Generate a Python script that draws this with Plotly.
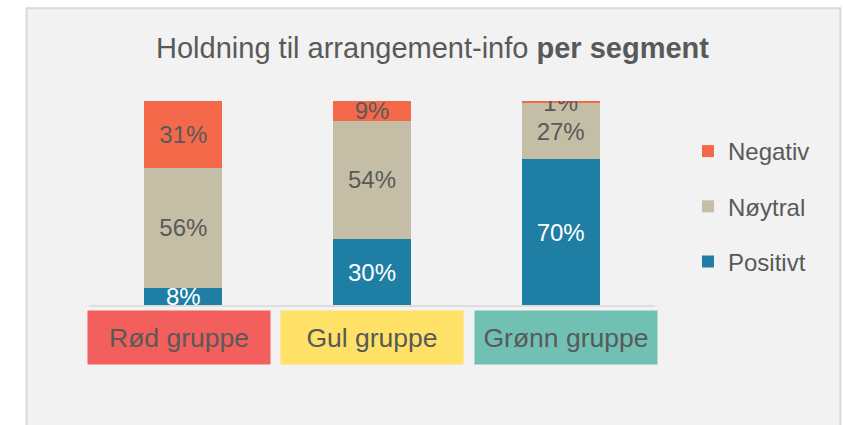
import plotly.graph_objects as go

# ---- data ----
categories = ["Rød gruppe", "Gul gruppe", "Grønn gruppe"]
positivt = [8, 30, 70]
noytral = [56, 54, 27]
negativ = [31, 9, 1]
series_names = ["Positivt", "Nøytral", "Negativ"]
category_colors = ["#f25f5c", "#fee166", "#70c1b3"]

# ---- layout geometry (pixels) ----
WIDTH, HEIGHT = 843, 425
L, R = 88.5, 655.0   # plot area left/right
T, B = 101.0, 305.0  # plot area top/bottom
PW, PH = R - L, B - T

def px_x(p):
    return (p - L) / PW

def px_y(p):
    return 1 - (p - T) / PH

FONT = "Liberation Sans, Arial, sans-serif"
TXT = "#595959"

colors = {"Positivt": "#1f7ea3", "Nøytral": "#c5bea6", "Negativ": "#f4694a"}
text_colors = {"Positivt": "white", "Nøytral": TXT, "Negativ": TXT}
ranks = {"Negativ": 1, "Nøytral": 2, "Positivt": 3}

fig = go.Figure()
for name, vals in zip(series_names, [positivt, noytral, negativ]):
    fig.add_trace(go.Bar(
        x=categories, y=vals, name=name,
        marker=dict(color=colors[name], line=dict(width=0)),
        text=[f"{v}%" for v in vals],
        textposition="inside", insidetextanchor="middle", textangle=0,
        textfont=dict(family=FONT, size=24, color=text_colors[name]),
        cliponaxis=True, legendgroup=name, legendrank=ranks[name],
    ))

annotations = []
shifts = [-4, 0, 5]
for cat, col, sh in zip(categories, category_colors, shifts):
    annotations.append(dict(
        x=cat, xref="x", y=px_y(337.5), yref="paper", yanchor="middle",
        xshift=sh, text=cat, showarrow=False,
        font=dict(family=FONT, size=26.5, color=TXT),
        bgcolor=col, width=182, height=53, borderpad=0, align="center",
    ))

fig.update_layout(
    width=WIDTH, height=HEIGHT,
    margin=dict(l=L, r=WIDTH - R, t=T, b=HEIGHT - B, pad=0),
    barmode="stack", barnorm="percent", bargap=0.587,
    paper_bgcolor="white", plot_bgcolor="rgba(0,0,0,0)",
    title=dict(
        text="Holdning til arrangement-info <b>per segment</b>",
        font=dict(family=FONT, size=29, color=TXT),
        xref="container", x=432.5 / WIDTH, xanchor="center",
        yref="container", y=1 - 47.5 / HEIGHT, yanchor="middle",
    ),
    xaxis=dict(showticklabels=False, showgrid=False, zeroline=False,
               showline=True, linecolor="#dedede", linewidth=2,
               ticks="", range=[-0.5, 2.5]),
    yaxis=dict(visible=False, range=[0, 100]),
    legend=dict(
        x=px_x(688), xanchor="left", y=px_y(129), yanchor="top",
        traceorder="grouped", tracegroupgap=21,
        font=dict(family=FONT, size=24, color=TXT),
        bgcolor="rgba(0,0,0,0)",
    ),
    uniformtext=dict(minsize=24, mode="show"),
    shapes=[dict(
        type="rect", xref="paper", yref="paper", layer="below",
        x0=px_x(26), x1=px_x(840.5), y0=px_y(440), y1=px_y(8.3),
        fillcolor="#f2f2f2", line=dict(color="#d9d9d9", width=2),
    )],
    annotations=annotations,
)

fig.write_html("out.html", config={"displayModeBar": False},
               post_script="document.body.style.margin='0px';document.body.style.overflow='hidden';")
